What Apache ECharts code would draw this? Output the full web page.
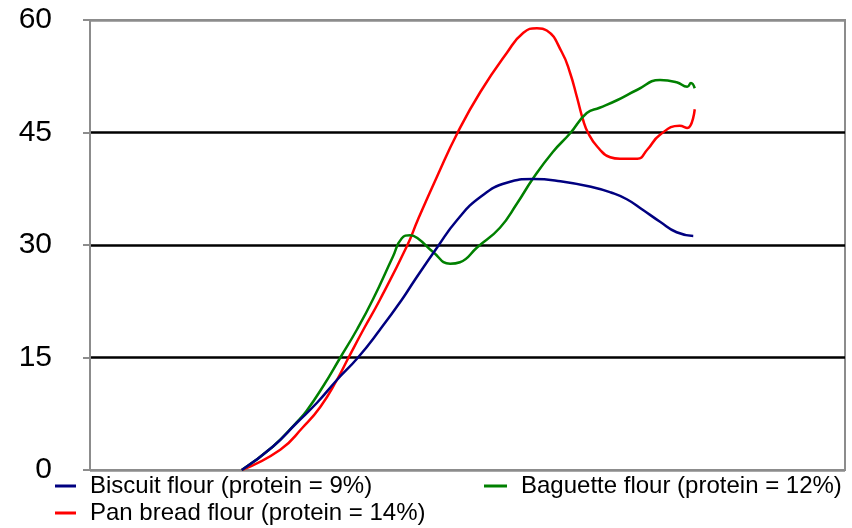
<!DOCTYPE html>
<html>
<head>
<meta charset="utf-8">
<script src="https://cdn.jsdelivr.net/npm/echarts@6/dist/echarts.min.js"></script>
<style>
  html, body { margin: 0; padding: 0; background: #fff; }
  #chart { width: 852px; height: 528px; }
</style>
</head>
<body>
<div id="chart"></div>
<script>
// Series names
const biscuitName = 'Biscuit flour (protein = 9%)';
const panName = 'Pan bread flour (protein = 14%)';
const baguetteName = 'Baguette flour (protein = 12%)';

// Y axis ticks
const yTicks = [0, 15, 30, 45, 60];

// Biscuit flour: [x, value]
const biscuit = [
  [20.1, 0], [24.2, 3.1], [27.4, 6.3], [30.1, 9.0], [32.7, 12.0], [35.5, 15.0],
  [38.4, 18.7], [41.3, 22.7], [43.0, 25.3], [46.0, 29.7], [48.6, 33.3],
  [51.7, 36.4], [55.2, 38.3], [58.7, 38.8], [62.3, 38.5], [66.6, 37.7],
  [69.0, 37.0], [71.1, 36.1], [73.2, 34.7], [75.5, 33.1], [77.7, 31.7], [79.9, 31.2]
];

// Pan bread flour: [x, value]
const panBread = [
  [20.1, 0], [25.2, 2.7], [28.2, 5.7], [30.5, 8.4], [32.7, 12.0], [34.2, 14.9],
  [36.2, 18.7], [38.4, 22.7], [42.0, 29.9], [43.4, 33.3], [46.0, 39.2],
  [48.7, 45.0], [51.7, 50.4], [55.2, 55.6], [57.4, 58.3], [59.2, 58.9],
  [60.5, 58.6], [62.5, 55.7], [63.6, 52.9], [64.5, 49.7], [65.3, 46.7],
  [66.0, 44.9], [67.2, 43.1], [68.9, 41.7], [70.2, 41.5], [72.5, 41.5],
  [73.8, 42.7], [75.5, 44.7], [78.1, 45.9], [79.1, 45.6], [80.1, 48.1]
];

// Baguette flour: [x, value]
const baguette = [
  [20.1, 0], [24.2, 3.1], [27.4, 6.4], [28.7, 7.9], [30.9, 11.2], [33.1, 14.9],
  [35.4, 18.8], [37.5, 22.8], [40.1, 28.4], [41.3, 30.9], [42.4, 31.3],
  [43.4, 30.9], [45.4, 29.1], [47.7, 27.5], [49.0, 27.7], [51.3, 29.7],
  [54.3, 32.3], [56.6, 35.6], [58.7, 38.9], [61.3, 42.4],
  [63.6, 44.9], [65.8, 47.6], [67.5, 48.3], [69.8, 49.3], [72.5, 50.7],
  [75.5, 52.0], [77.7, 51.7], [79.1, 51.1], [79.6, 51.6], [80.1, 50.9]
];

const colors = { biscuit: '#000080', pan: '#ff0000', baguette: '#008000' };
const frameGray = '#8c8c8c';
const font = 'Liberation Sans, Arial, sans-serif';

const chart = echarts.init(document.getElementById('chart'), null, { renderer: 'canvas' });

const legendText = { fontFamily: font, fontSize: 24, color: '#000', lineHeight: 23, padding: [0, 0, 0, 9] };

chart.setOption({
  animation: false,
  backgroundColor: '#fff',
  grid: {
    left: 90, right: 7, top: 20, bottom: 58,
    show: true, borderColor: frameGray, borderWidth: 2, backgroundColor: 'transparent'
  },
  legend: [
    {
      data: [biscuitName, panName],
      orient: 'vertical',
      left: 55, top: 474, padding: 0,
      itemWidth: 21, itemHeight: 3, itemGap: 3,
      icon: 'rect',
      textStyle: legendText
    },
    {
      data: [baguetteName],
      orient: 'vertical',
      left: 484, top: 474, padding: 0,
      itemWidth: 23, itemHeight: 3,
      icon: 'rect',
      textStyle: legendText
    }
  ],
  xAxis: {
    type: 'value', min: 0, max: 100, show: false
  },
  yAxis: {
    type: 'value',
    min: yTicks[0], max: yTicks[yTicks.length - 1], interval: 15,
    axisLine: { show: true, lineStyle: { color: frameGray, width: 2 } },
    axisTick: { show: true, length: 7, lineStyle: { color: frameGray, width: 2 } },
    axisLabel: { fontFamily: font, fontSize: 30, color: '#000', margin: 38 },
    splitLine: {
      show: true,
      lineStyle: { color: [frameGray, '#000', '#000', '#000', frameGray], width: 2.5 }
    }
  },
  series: [
    {
      name: panName, type: 'line', data: panBread, smooth: 0.5, showSymbol: false,
      lineStyle: { color: colors.pan, width: 2.5 }, itemStyle: { color: colors.pan }
    },
    {
      name: baguetteName, type: 'line', data: baguette, smooth: 0.5, showSymbol: false,
      lineStyle: { color: colors.baguette, width: 2.5 }, itemStyle: { color: colors.baguette }
    },
    {
      name: biscuitName, type: 'line', data: biscuit, smooth: 0.5, showSymbol: false,
      lineStyle: { color: colors.biscuit, width: 2.5 }, itemStyle: { color: colors.biscuit }
    }
  ]
});
</script>
</body>
</html>
